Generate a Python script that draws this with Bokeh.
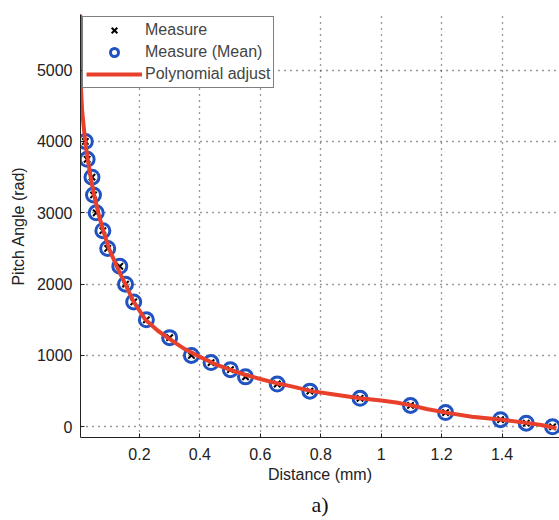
from bokeh.plotting import figure
from bokeh.models import Range1d, FixedTicker, Legend, LegendItem, Title
from bokeh.embed import file_html
from bokeh.resources import INLINE

# Measured points (Distance mm, Pitch angle)
meas_x = [0.021, 0.027, 0.043, 0.048, 0.057, 0.079, 0.095, 0.135, 0.154, 0.181, 0.223,
          0.300, 0.372, 0.437, 0.501, 0.551, 0.656, 0.764, 0.930, 1.097, 1.213, 1.395,
          1.480, 1.567]
meas_y = [4000, 3750, 3500, 3250, 3000, 2750, 2500, 2250, 2000, 1750, 1500,
          1250, 1000, 900, 800, 700, 600, 500, 400, 300, 200, 100,
          50, 0]

# Polynomial adjust curve
fit_x = [0.004, 0.006, 0.01, 0.02, 0.03, 0.04, 0.05, 0.065, 0.08, 0.1, 0.125, 0.15,
         0.18, 0.22, 0.26, 0.3, 0.35, 0.4, 0.45, 0.5, 0.55, 0.6, 0.65, 0.7, 0.77,
         0.85, 0.93, 1.0, 1.05, 1.1, 1.15, 1.22, 1.3, 1.4, 1.48, 1.53, 1.58]
fit_y = [5800, 4800, 4450, 4020, 3720, 3470, 3250, 2980, 2750, 2490, 2250, 2030,
         1760, 1500, 1350, 1230, 1090, 980, 880, 800, 730, 670, 615, 570, 500,
         450, 400, 370, 340, 300, 250, 195, 140, 100, 55, 25, -20]

x_ticks = [0.2, 0.4, 0.6, 0.8, 1.0, 1.2, 1.4]
x_labels = {0.2: "0.2", 0.4: "0.4", 0.6: "0.6", 0.8: "0.8", 1.0: "1", 1.2: "1.2", 1.4: "1.4"}
y_ticks = [0, 1000, 2000, 3000, 4000, 5000]

FONT = "Liberation Sans"
RED = "#e8402a"
BLUE = "#2052c0"

p = figure(width=559, height=520, output_backend="svg", toolbar_location=None,
           x_range=Range1d(0.005, 1.59), y_range=Range1d(-150, 5780),
           min_border_left=80, min_border_right=0, min_border_top=14, min_border_bottom=0)
p.outline_line_color = None
p.background_fill_color = "white"
p.border_fill_color = "white"

for ax in (p.xaxis[0], p.yaxis[0]):
    ax.major_tick_in = 4
    ax.major_tick_out = 0
    ax.minor_tick_in = 0
    ax.minor_tick_out = 0
    ax.axis_line_color = "#222222"
    ax.major_tick_line_color = "#222222"
    ax.major_label_text_font = FONT
    ax.major_label_text_font_size = "16px"
    ax.major_label_text_color = "#222222"
    ax.axis_label_text_font = FONT
    ax.axis_label_text_font_size = "16px"
    ax.axis_label_text_font_style = "normal"
    ax.axis_label_text_color = "#222222"

p.xaxis.ticker = FixedTicker(ticks=x_ticks)
p.xaxis.major_label_overrides = x_labels
p.xaxis.major_label_standoff = 10
p.xaxis.axis_label = "Distance (mm)"
p.xaxis.axis_label_standoff = 3
p.yaxis.ticker = FixedTicker(ticks=y_ticks)
p.yaxis.major_label_standoff = 8
p.yaxis.axis_label = "Pitch Angle (rad)"
p.yaxis.axis_label_standoff = 7

for g in (p.xgrid[0], p.ygrid[0]):
    g.grid_line_color = "#333333"
    g.grid_line_dash = "1 5"
    g.grid_line_width = 1.3
p.xgrid.ticker = FixedTicker(ticks=x_ticks)
p.ygrid.ticker = FixedTicker(ticks=y_ticks)

r_mean = p.scatter(meas_x, meas_y, marker="circle", size=14, fill_color=None,
                   line_color=BLUE, line_width=3)
r_meas = p.scatter(meas_x, meas_y, marker="x", size=9, line_color="black", line_width=2)
r_fit = p.line(fit_x, fit_y, line_color=RED, line_width=4)

legend = Legend(items=[LegendItem(label="Measure", renderers=[r_meas]),
                       LegendItem(label="Measure (Mean)", renderers=[r_mean]),
                       LegendItem(label="Polynomial adjust", renderers=[r_fit])],
                location="top_left", margin=2, padding=3, spacing=2,
                glyph_width=56, glyph_height=20, label_height=20, label_standoff=3,
                label_text_font=FONT, label_text_font_size="16px",
                border_line_color="black", border_line_width=1,
                background_fill_color="white", background_fill_alpha=1)
p.add_layout(legend)

cap = Title(text="a)", align="center", text_font="Liberation Serif",
            text_font_size="22px", text_font_style="normal", text_color="#111111",
            standoff=8)
p.add_layout(cap, "below")

open("out.html", "w").write(file_html(p, INLINE))
